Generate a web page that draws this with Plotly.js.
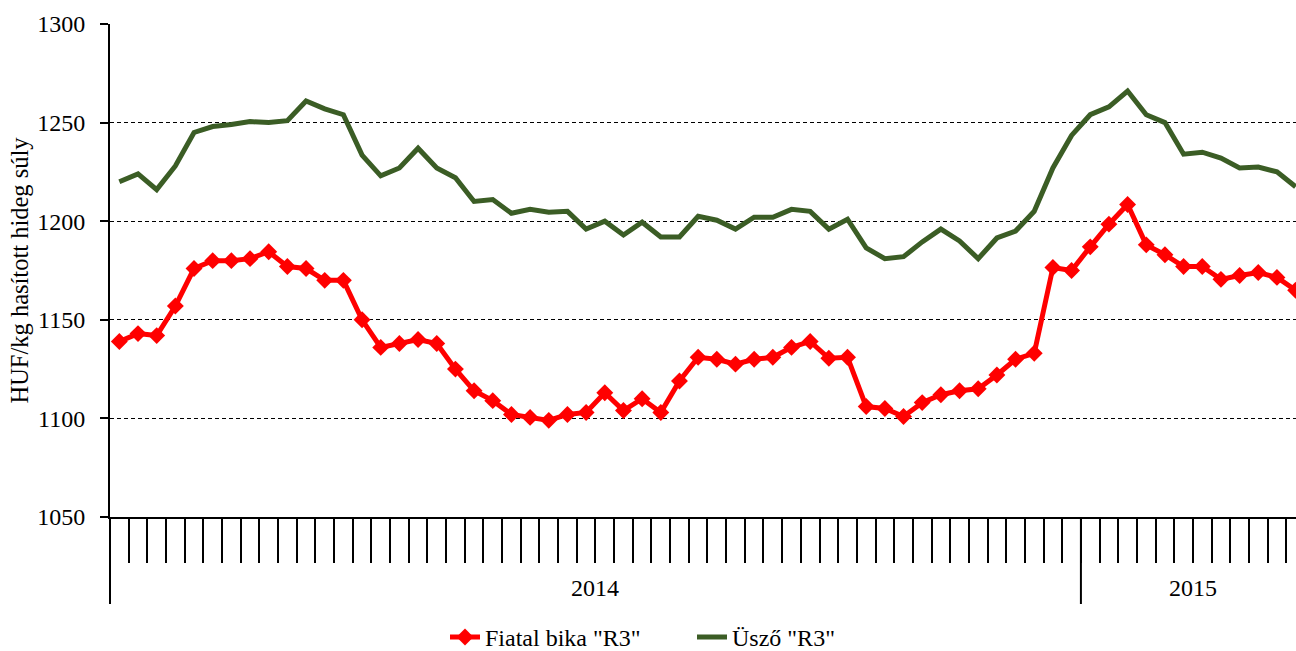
<!DOCTYPE html>
<html>
<head>
<meta charset="utf-8">
<script src="https://cdn.plot.ly/plotly-3.0.1.min.js"></script>
<style>
  html, body { margin: 0; padding: 0; background: #ffffff; }
  #chart { width: 1296px; height: 651px; }
</style>
</head>
<body>
<div id="chart"></div>
<script>
// Weekly categories: 52 weeks of 2014, 12 weeks of 2015
const weeks2014 = Array.from({length: 52}, (_, i) => '2014/' + String(i + 1).padStart(2, '0'));
const weeks2015 = Array.from({length: 12}, (_, i) => '2015/' + String(i + 1).padStart(2, '0'));
const categories = weeks2014.concat(weeks2015);

const yearLabels = ['2014', '2015'];

// Fiatal bika "R3" (HUF/kg)
const fiatalBika = [
  1139, 1143, 1142, 1157, 1176, 1180, 1180, 1181, 1184.5, 1177,
  1176, 1170, 1170, 1150, 1136, 1138, 1140, 1138, 1125, 1114,
  1109, 1102, 1100.5, 1099, 1102, 1103, 1113, 1104, 1110, 1103,
  1119, 1131, 1130, 1127.5, 1130, 1131, 1136, 1139, 1130.5, 1131,
  1106, 1105, 1101, 1108, 1112, 1114, 1115, 1122, 1130, 1133,
  1176.5, 1175, 1187, 1198.5, 1208.5, 1188, 1183, 1177, 1177, 1170.5,
  1172.5, 1174, 1171.5, 1165
];

// Üsző "R3" (HUF/kg)
const uszo = [
  1220, 1224, 1216, 1228, 1245, 1248, 1249, 1250.5, 1250, 1251,
  1261, 1257, 1254, 1233.5, 1223, 1227, 1237, 1227, 1222, 1210,
  1211, 1204, 1206, 1204.5, 1205, 1196, 1200, 1193, 1199.5, 1192,
  1192, 1202.5, 1200.5, 1196, 1202, 1202, 1206, 1205, 1196, 1201,
  1186.5, 1181, 1182, 1189.5, 1196, 1190, 1181, 1191.5, 1195, 1205,
  1227, 1243.5, 1254, 1258, 1266, 1254, 1250, 1234, 1235, 1232,
  1227, 1227.5, 1225, 1217.5
];

const serif = '"Liberation Serif", "Times New Roman", serif';
const fs = 24;

const traces = [
  {
    x: categories, y: fiatalBika, type: 'scatter', mode: 'lines+markers',
    name: 'Fiatal bika "R3"',
    line: {color: '#FF0000', width: 5},
    marker: {symbol: 'diamond', size: 13, color: '#FF0000'},
    cliponaxis: true
  },
  {
    x: categories, y: uszo, type: 'scatter', mode: 'lines',
    name: 'Üsző "R3"',
    line: {color: '#3B5D25', width: 5}
  }
];

const n2014 = weeks2014.length;
const n2015 = weeks2015.length;
const belowY = -(604 - 517) / 493;
const labelY = -(588 - 517) / 493;

const layout = {
  width: 1296, height: 651,
  margin: {l: 110, r: 0, t: 24, b: 134},
  paper_bgcolor: '#ffffff', plot_bgcolor: '#ffffff',
  font: {family: serif, size: fs, color: '#000000'},
  showlegend: true,
  legend: {
    orientation: 'h', xref: 'container', yref: 'container',
    x: 445 / 1296, xanchor: 'left', y: 0.021, yanchor: 'middle',
    font: {family: serif, size: fs, color: '#000000'},
    entrywidth: 202, entrywidthmode: 'pixels',
    tracegroupgap: 0, traceorder: 'normal'
  },
  xaxis: {
    type: 'category',
    range: [-0.5, 63.02],
    showgrid: false, zeroline: false,
    showline: true, linecolor: '#000000', linewidth: 2,
    ticks: 'outside', tickson: 'boundaries', ticklen: 44, tickwidth: 2, tickcolor: '#000000',
    showticklabels: false,
    fixedrange: true
  },
  yaxis: {
    range: [1050, 1300], dtick: 50, tick0: 1050,
    showgrid: true, gridcolor: '#000000', gridwidth: 1, griddash: '4px,3px',
    zeroline: false,
    showline: true, linecolor: '#000000', linewidth: 2,
    ticks: 'outside', ticklen: 8, tickwidth: 2, tickcolor: '#000000',
    ticklabelstandoff: 10,
    tickfont: {family: serif, size: fs, color: '#000000'},
    title: {text: 'HUF/kg hasított hideg súly', font: {family: serif, size: 24.5, color: '#000000'}, standoff: 2},
    fixedrange: true
  },
  shapes: [
    {type: 'line', xref: 'paper', yref: 'paper', x0: 0, x1: 0, y0: 0, y1: belowY,
     line: {color: '#000000', width: 2}},
    {type: 'line', xref: 'x', yref: 'paper', x0: n2014 - 0.5, x1: n2014 - 0.5, y0: 0, y1: belowY,
     line: {color: '#000000', width: 2}}
  ],
  annotations: [
    {xref: 'x', yref: 'paper', x: (n2014 - 1) / 2, y: labelY, text: yearLabels[0],
     showarrow: false, xanchor: 'center', yanchor: 'middle', font: {family: serif, size: fs, color: '#000000'}},
    {xref: 'x', yref: 'paper', x: n2014 + (n2015 - 1) / 2, y: labelY, text: yearLabels[1],
     showarrow: false, xanchor: 'center', yanchor: 'middle', font: {family: serif, size: fs, color: '#000000'}}
  ]
};

Plotly.newPlot('chart', traces, layout, {displayModeBar: false, staticPlot: true});
</script>
</body>
</html>
